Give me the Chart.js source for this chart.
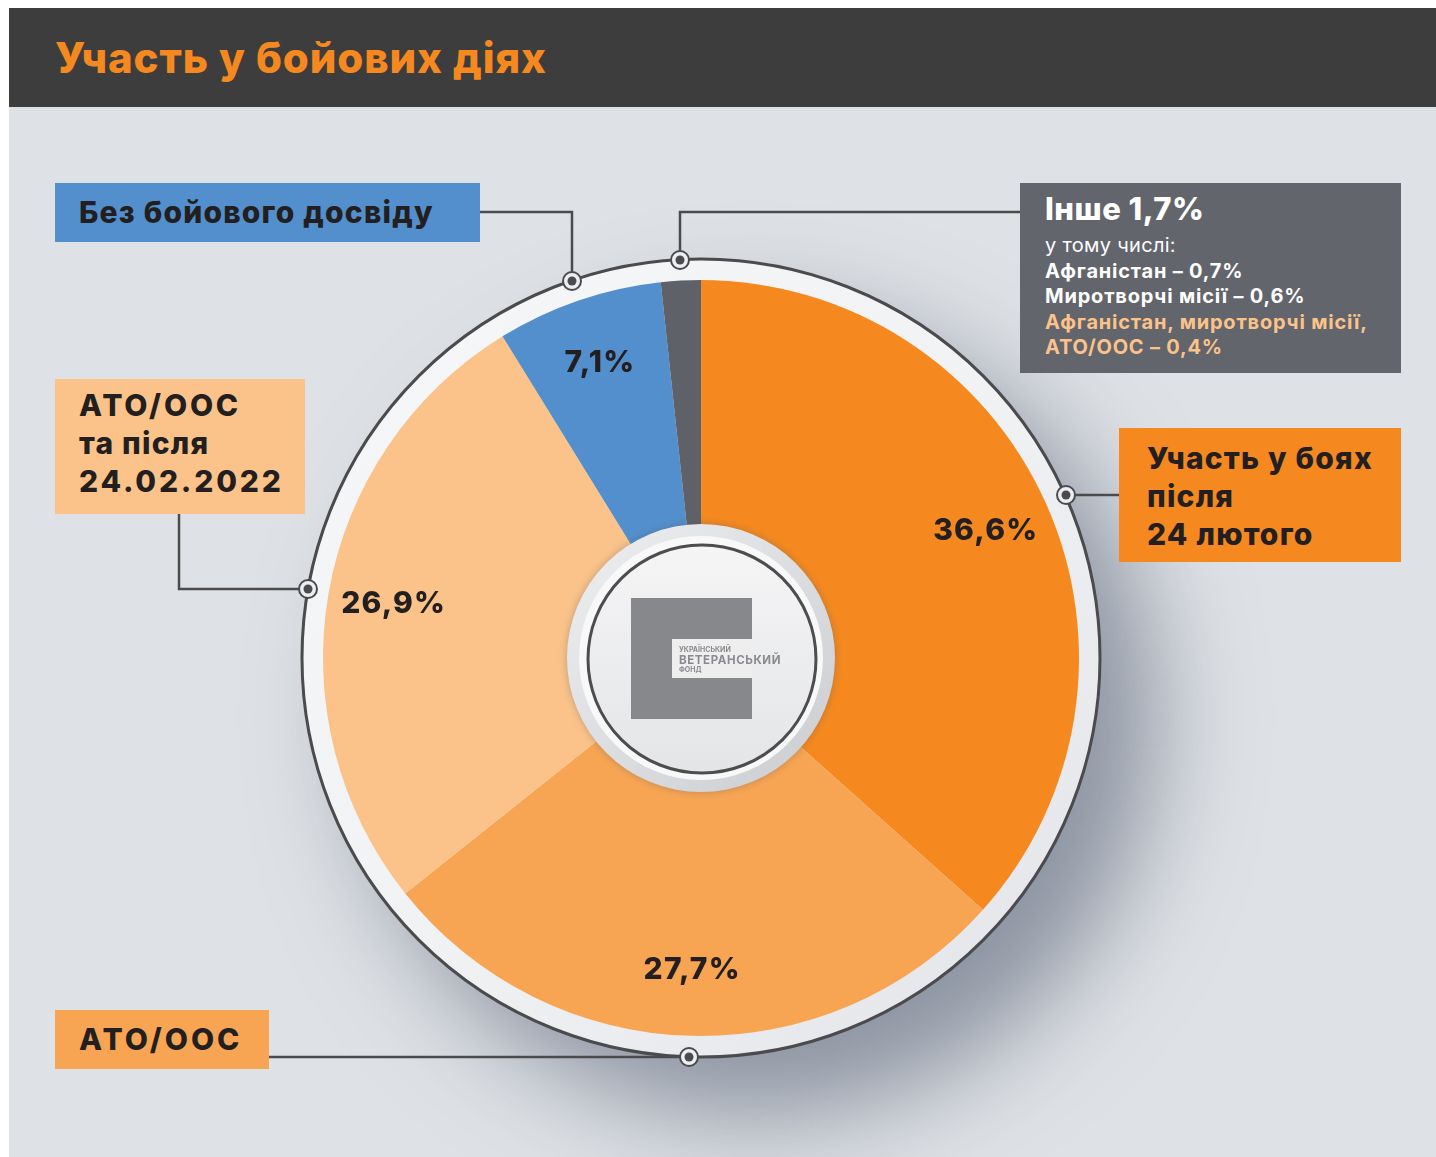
<!DOCTYPE html>
<html lang="uk">
<head>
  <meta charset="UTF-8">
  <title>Участь у бойових діях</title>
  <script src="https://cdn.jsdelivr.net/npm/chart.js"></script>
  <style>
    body {
      margin: 0;
      background: #ffffff;
      font-family: Inter, Roboto, sans-serif;
      width: 1436px;
      height: 1157px;
      overflow: hidden;
      position: relative;
    }
    .panel {
      position: absolute;
      left: 9px; top: 8px;
      width: 1427px; height: 1149px;
      background: #dee1e5;
    }
    header {
      position: absolute;
      left: 9px; top: 8px;
      width: 1427px; height: 99px;
      background: #3d3d3d;
    }
    header h1 {
      position: absolute;
      left: 46px; top: 24px;
      margin: 0;
      font-size: 42px;
      font-weight: 800;
      letter-spacing: 0.9px;
      color: #f5891f;
    }
    canvas { position: absolute; left: 0; top: 0; }
    .box {
      position: absolute;
      box-sizing: border-box;
      color: #231f20;
      font-weight: 800;
      font-size: 30px;
      line-height: 38px;
      letter-spacing: 1.2px;
    }
    #other {
      background: #63656c;
      color: #ffffff;
      font-size: 20px;
      line-height: 25.6px;
      font-weight: 700;
      letter-spacing: 0.8px;
    }
    #other .big { font-size: 31px; line-height: 40px; font-weight: 800; margin-bottom: 4px; letter-spacing: 0.5px; }
    #other .thin { font-weight: 400; letter-spacing: 0.3px; }
    #other .peach { color: #fbc389; }
  </style>
</head>
<body>
  <div class="panel"></div>
  <header><h1>Участь у бойових діях</h1></header>
  <canvas id="combatChart" width="1436" height="1157"></canvas>

  <div class="box" style="left:55px;top:183px;width:425px;height:59px;background:#528fcc;padding:10px 0 0 24px;">Без бойового досвіду</div>
  <div class="box" id="other" style="left:1020px;top:183px;width:381px;height:190px;padding:6px 0 0 25px;"></div>
  <div class="box" style="left:1119px;top:428px;width:282px;height:134px;background:#f5891f;padding:11px 0 0 28px;">Участь у боях<br>після<br>24 лютого</div>
  <div class="box" style="left:55px;top:379px;width:250px;height:135px;background:#fbc389;padding:7px 0 0 24px;letter-spacing:2.8px;">АТО/ООС<br><span style="letter-spacing:1.2px">та після</span><br>24.02.2022</div>
  <div class="box" style="left:55px;top:1010px;width:214px;height:59px;background:#f8a553;padding:10px 0 0 24px;letter-spacing:3px;">АТО/ООС</div>

  <script>
    const categories = ['Участь у боях після 24 лютого', 'АТО/ООС', 'АТО/ООС та після 24.02.2022', 'Без бойового досвіду', 'Інше'];
    const shares = [36.6, 27.7, 26.9, 7.1, 1.7];
    const sliceColors = ['#f5891f', '#f8a553', '#fbc389', '#528fcc', '#5f6168'];

    const otherItems = ['Афганістан', 'Миротворчі місії', 'Афганістан, миротворчі місії, АТО/ООС'];
    const otherShares = [0.7, 0.6, 0.4];

    const fmt = v => v.toFixed(1).replace('.', ',') + '%';

    // box with the breakdown of "Інше"
    document.getElementById('other').innerHTML =
      '<div class="big">Інше ' + fmt(shares[4]) + '</div>' +
      '<div class="thin">у тому числі:</div>' +
      '<div>' + otherItems[0] + ' – ' + fmt(otherShares[0]) + '</div>' +
      '<div>' + otherItems[1] + ' – ' + fmt(otherShares[1]) + '</div>' +
      '<div class="peach">Афганістан, миротворчі місії,<br>АТО/ООС – ' + fmt(otherShares[2]) + '</div>';

    const LINE = '#4b4b4e';

    // callout leader lines: points from box edge to marker on the ring
    const callouts = [
      [[480, 212], [572, 212], [572, 281]],
      [[1020, 212], [680, 212], [680, 260]],
      [[1119, 495], [1066, 495]],
      [[179, 514], [179, 589], [308, 589]],
      [[269, 1057], [689, 1057]]
    ];

    function marker(ctx, x, y) {
      ctx.beginPath();
      ctx.arc(x, y, 9, 0, Math.PI * 2);
      ctx.fillStyle = '#eceef1';
      ctx.fill();
      ctx.lineWidth = 2;
      ctx.strokeStyle = LINE;
      ctx.stroke();
      ctx.beginPath();
      ctx.arc(x, y, 4.5, 0, Math.PI * 2);
      ctx.fillStyle = LINE;
      ctx.fill();
    }

    const decor = {
      id: 'decor',
      beforeDatasetsDraw(chart) {
        const ctx = chart.ctx;
        const arc = chart.getDatasetMeta(0).data[0];
        const cx = arc.x, cy = arc.y, R = arc.outerRadius + 21;
        // soft shadow + white ring
        ctx.save();
        ctx.shadowColor = 'rgba(60, 72, 95, 0.5)';
        ctx.shadowBlur = 100;
        ctx.shadowOffsetX = 55;
        ctx.shadowOffsetY = 60;
        ctx.beginPath();
        ctx.arc(cx, cy, R, 0, Math.PI * 2);
        const g = ctx.createLinearGradient(cx - R, cy - R, cx + R, cy + R);
        g.addColorStop(0, '#f6f7f9');
        g.addColorStop(0.5, '#f1f2f4');
        g.addColorStop(1, '#e1e3e7');
        ctx.fillStyle = g;
        ctx.fill();
        ctx.restore();
        ctx.beginPath();
        ctx.arc(cx, cy, R, 0, Math.PI * 2);
        ctx.lineWidth = 3;
        ctx.strokeStyle = LINE;
        ctx.stroke();
      },
      afterDatasetsDraw(chart) {
        const ctx = chart.ctx;
        const meta = chart.getDatasetMeta(0);
        const cx = meta.data[0].x, cy = meta.data[0].y;

        // value labels along each slice's middle angle
        ctx.save();
        ctx.font = '800 30px Inter, Roboto, sans-serif';
        ctx.letterSpacing = '1.2px';
        ctx.fillStyle = '#231f20';
        ctx.textAlign = 'center';
        ctx.textBaseline = 'middle';
        meta.data.forEach((a, i) => {
          if (i === 4) return;
          const mid = (a.startAngle + a.endAngle) / 2;
          const r = 312;
          ctx.fillText(fmt(shares[i]), cx + Math.cos(mid) * r, cy + Math.sin(mid) * r);
        });
        ctx.restore();

        // centre medallion
        ctx.save();
        ctx.shadowColor = 'rgba(80, 80, 90, 0.35)';
        ctx.shadowBlur = 8;
        ctx.beginPath();
        ctx.arc(cx, cy, 134, 0, Math.PI * 2);
        let g = ctx.createLinearGradient(cx - 134, cy - 134, cx + 134, cy + 134);
        g.addColorStop(0, '#eeeff1');
        g.addColorStop(1, '#caccd0');
        ctx.fillStyle = g;
        ctx.fill();
        ctx.restore();
        ctx.beginPath();
        ctx.arc(cx, cy, 122, 0, Math.PI * 2);
        ctx.fillStyle = '#f8f8f9';
        ctx.fill();
        ctx.beginPath();
        ctx.arc(cx + 1, cy + 1, 114, 0, Math.PI * 2);
        g = ctx.createLinearGradient(cx, cy - 114, cx, cy + 114);
        g.addColorStop(0, '#f5f5f6');
        g.addColorStop(1, '#e4e5e7');
        ctx.fillStyle = g;
        ctx.fill();
        ctx.lineWidth = 3;
        ctx.strokeStyle = '#4d4d50';
        ctx.stroke();

        // logo
        ctx.fillStyle = '#87888c';
        ctx.fillRect(cx - 70, cy - 60, 121, 121);
        ctx.fillStyle = '#eeeeef';
        ctx.fillRect(cx - 29, cy - 19, 80, 39);
        ctx.fillStyle = '#8a8b8f';
        ctx.textAlign = 'left';
        ctx.textBaseline = 'alphabetic';
        ctx.font = '700 7px Inter, sans-serif';
        ctx.fillText('УКРАЇНСЬКИЙ', cx - 22, cy - 6);
        ctx.font = '700 11.5px Inter, sans-serif';
        ctx.letterSpacing = '0.6px';
        ctx.fillText('ВЕТЕРАНСЬКИЙ', cx - 22, cy + 6);
        ctx.letterSpacing = '0px';
        ctx.font = '700 7px Inter, sans-serif';
        ctx.fillText('ФОНД', cx - 22, cy + 14);

        // callout lines and markers
        ctx.lineWidth = 2.5;
        ctx.strokeStyle = LINE;
        callouts.forEach(pts => {
          ctx.beginPath();
          ctx.moveTo(pts[0][0], pts[0][1]);
          pts.slice(1).forEach(p => ctx.lineTo(p[0], p[1]));
          ctx.stroke();
        });
        callouts.forEach(pts => {
          const p = pts[pts.length - 1];
          marker(ctx, p[0], p[1]);
        });
      }
    };

    const ctx = document.getElementById('combatChart').getContext('2d');
    new Chart(ctx, {
      type: 'pie',
      data: {
        labels: categories,
        datasets: [{
          data: shares,
          backgroundColor: sliceColors,
          borderWidth: 0
        }]
      },
      options: {
        responsive: false,
        animation: false,
        events: [],
        layout: { padding: { left: 323, right: 357, top: 280, bottom: 121 } },
        plugins: {
          legend: { display: false },
          tooltip: { enabled: false }
        }
      },
      plugins: [decor]
    });
  </script>
</body>
</html>
